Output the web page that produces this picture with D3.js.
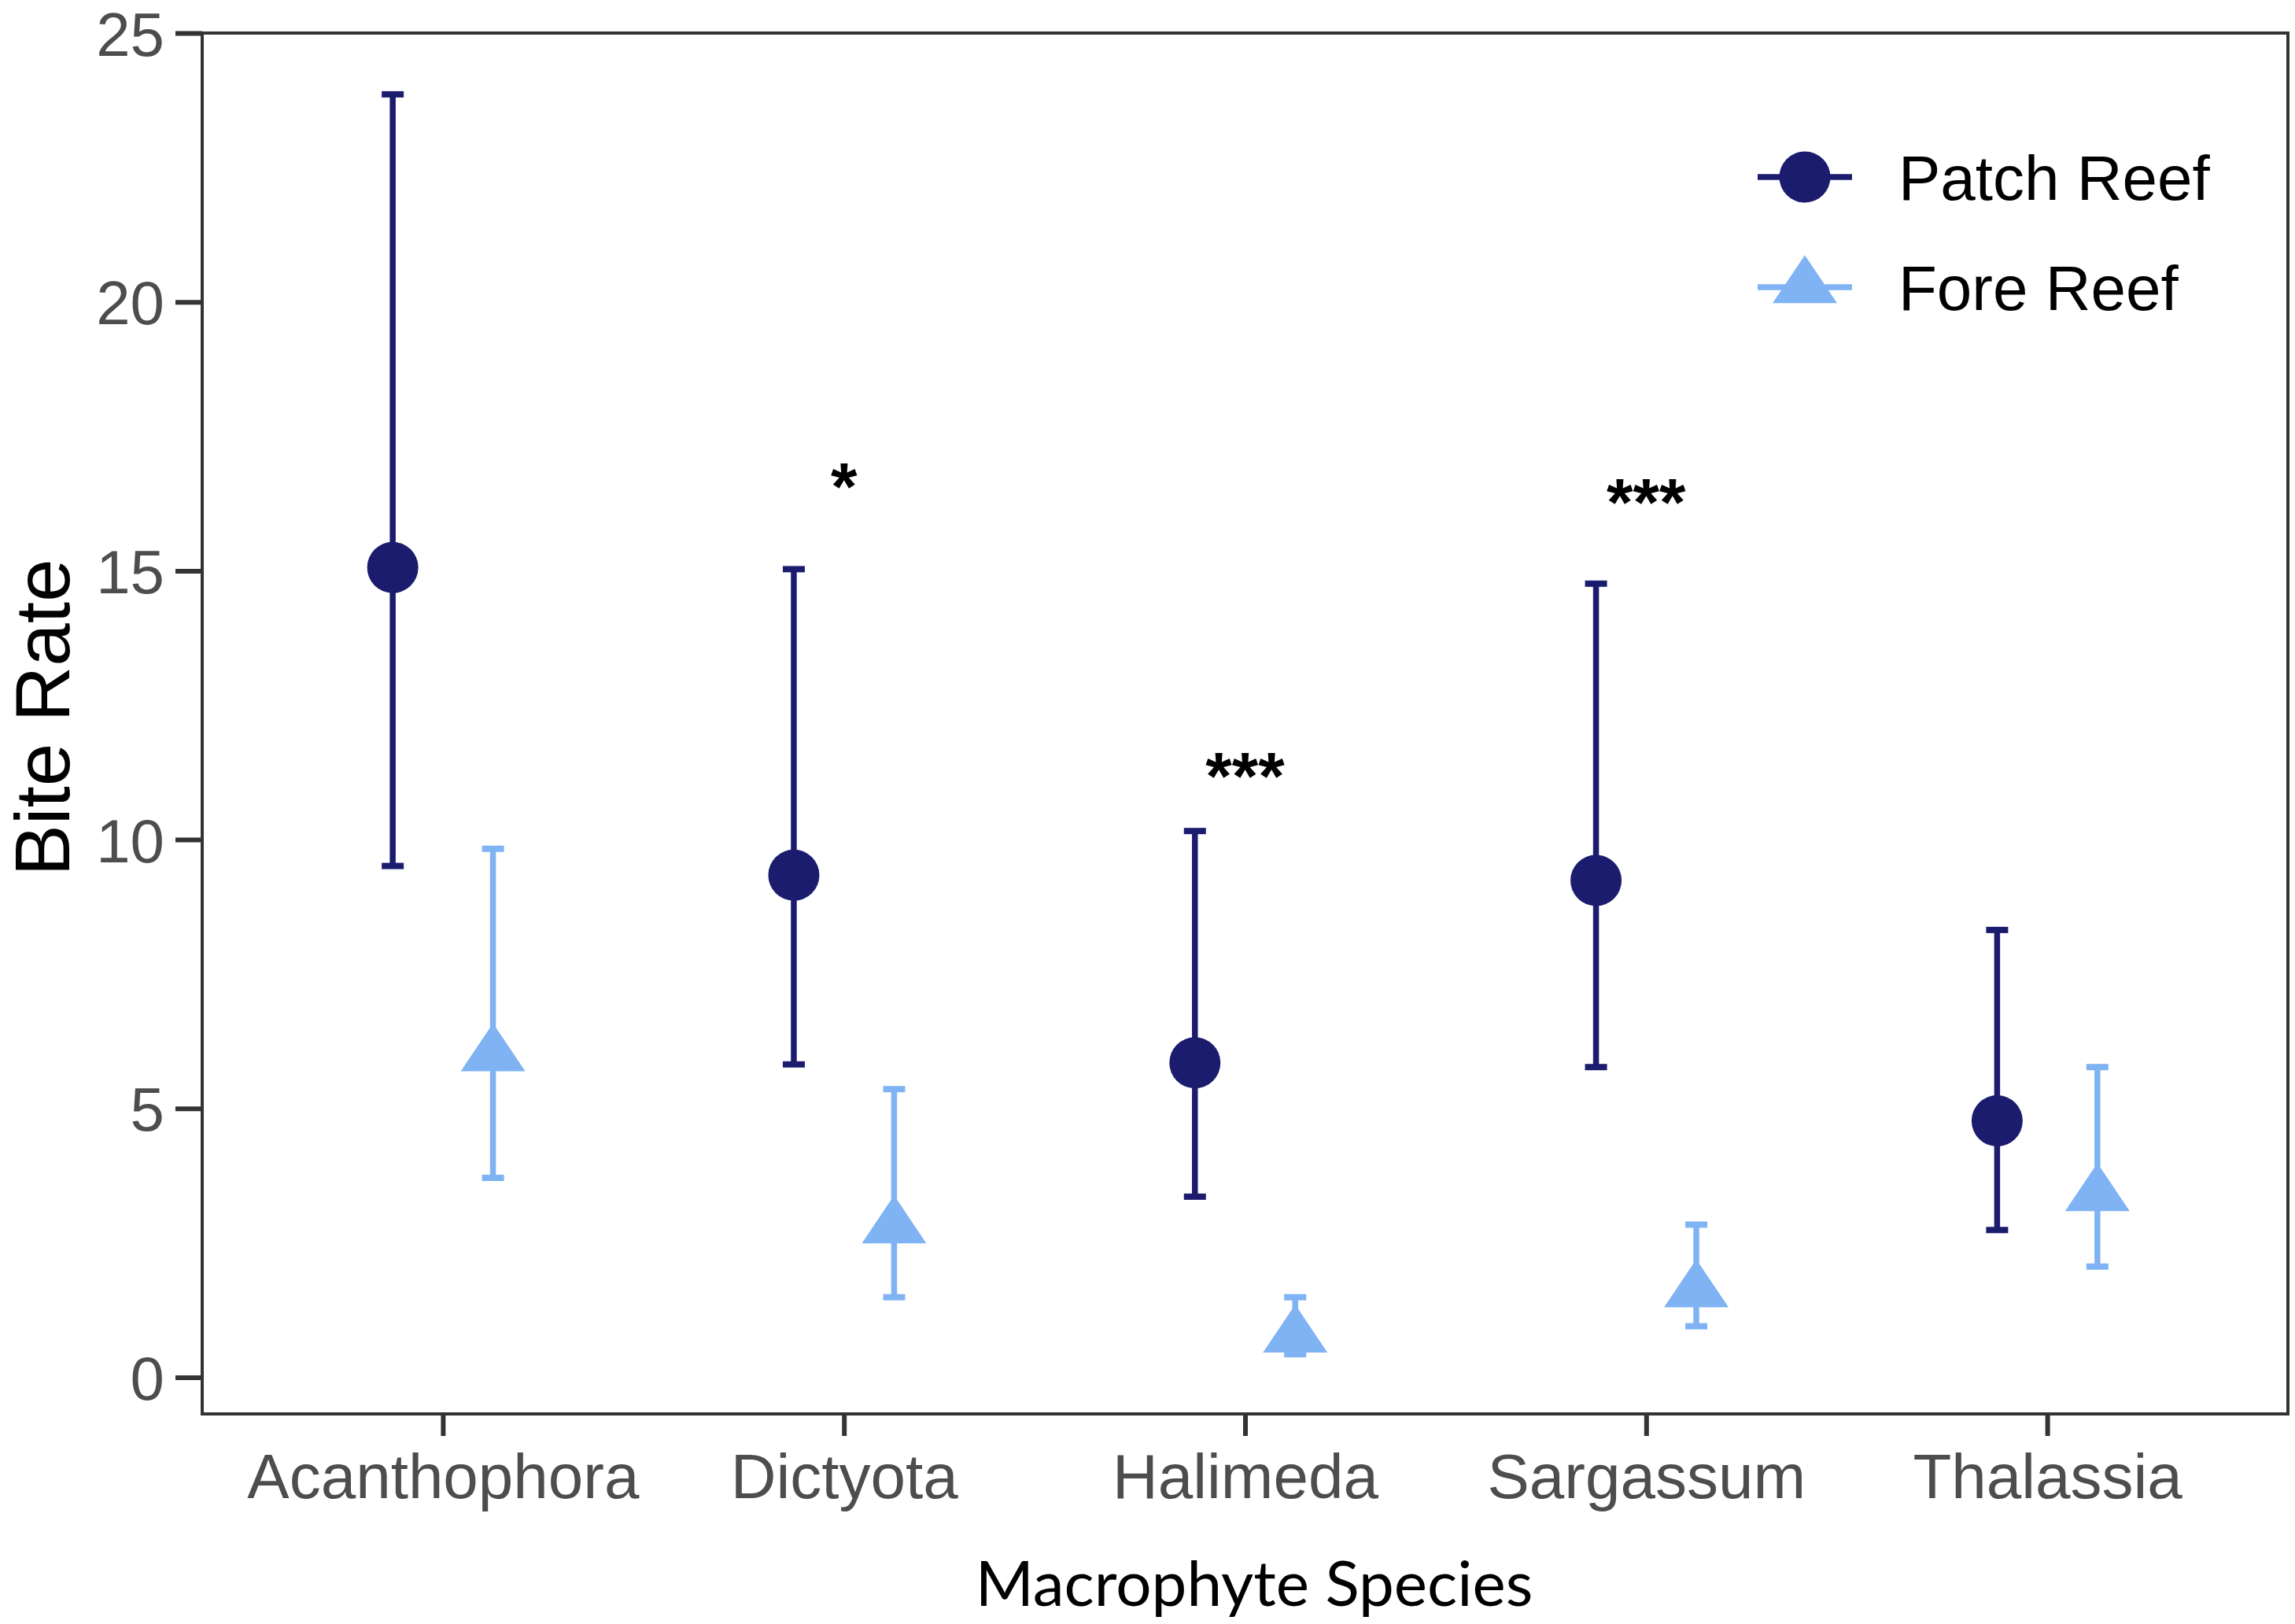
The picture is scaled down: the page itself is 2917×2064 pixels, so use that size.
<!DOCTYPE html>
<html>
<head>
<meta charset="utf-8">
<script src="https://cdn.jsdelivr.net/npm/d3@7"></script>
<style>
  html, body { margin: 0; padding: 0; background: #fff; }
  svg { display: block; }
</style>
</head>
<body>
<div id="chart"></div>
<script>
// values
const species = ['Acanthophora', 'Dictyota', 'Halimeda', 'Sargassum', 'Thalassia']
const patchMean = [15.06, 9.34, 5.85, 9.24, 4.77]
const patchLow = [9.51, 5.82, 3.36, 5.77, 2.74]
const patchHigh = [23.86, 15.03, 10.16, 14.76, 8.32]
const foreMean = [5.99, 2.79, 0.76, 1.6, 3.39]
const foreLow = [3.71, 1.49, 0.43, 0.95, 2.06]
const foreHigh = [9.83, 5.36, 1.49, 2.84, 5.77]
const yTicks = [0, 5, 10, 15, 20, 25]
const starSpecies = ['Dictyota', 'Halimeda', 'Sargassum']
const starLabels = ['*', '***', '***']
const starY = [16.76, 11.37, 16.47]
const seriesNames = ['Patch Reef', 'Fore Reef']

const width = 2917
const height = 2064
const panel = { left: 257, right: 2908, top: 42, bottom: 1797 }

const patchColor = '#1c1c6e'
const foreColor = '#80b3f3'
const axisColor = '#333333'
const labelColor = '#4d4d4d'

const svg = d3.select('#chart')
	.append('svg')
	.attr('width', width)
	.attr('height', height)

const x = d3.scalePoint()
	.domain(species)
	.range([panel.left, panel.right])
	.padding(0.6)

const y = d3.scaleLinear()
	.domain([-0.68, 25])
	.range([panel.bottom, panel.top])

const dodge = x.step() * 0.125

const series = [
	{ name: seriesNames[0], color: patchColor, shape: 'circle', offset: -dodge, mean: patchMean, low: patchLow, high: patchHigh },
	{ name: seriesNames[1], color: foreColor, shape: 'triangle', offset: dodge, mean: foreMean, low: foreLow, high: foreHigh }
]

// triangle like R pch 17, centroid at the point
const triangle = (w, h) => `M0,${-h * 2 / 3}L${w / 2},${h / 3}L${-w / 2},${h / 3}Z`

// axes
const yAxis = svg.append('g')
	.attr('transform', `translate(${panel.left},0)`)
	.call(d3.axisLeft(y).tickValues(yTicks).tickSize(34).tickPadding(14))

const xAxis = svg.append('g')
	.attr('transform', `translate(0,${panel.bottom})`)
	.call(d3.axisBottom(x).tickSize(28).tickPadding(22))

;[yAxis, xAxis].forEach(g => {
	g.select('.domain').remove()
	g.selectAll('.tick line').attr('stroke', axisColor).attr('stroke-width', 6)
	g.selectAll('.tick text')
		.attr('fill', labelColor)
		.style('font-family', '"Liberation Sans", Arial, sans-serif')
		.style('font-size', '78px')
})
yAxis.selectAll('.tick text').attr('dy', '0.36em')
xAxis.selectAll('.tick text').style('font-size', '80px')

// panel border
svg.append('rect')
	.attr('x', panel.left)
	.attr('y', panel.top)
	.attr('width', panel.right - panel.left)
	.attr('height', panel.bottom - panel.top)
	.attr('fill', 'none')
	.attr('stroke', axisColor)
	.attr('stroke-width', 4)

// error bars and points
series.forEach(s => {
	const g = svg.append('g')
	const rows = species.map((sp, i) => ({ sp, mean: s.mean[i], low: s.low[i], high: s.high[i] }))
	const cx = d => x(d.sp) + s.offset

	g.selectAll('line.bar')
		.data(rows)
		.enter()
		.append('line')
		.attr('x1', cx)
		.attr('x2', cx)
		.attr('y1', d => y(d.low))
		.attr('y2', d => y(d.high))
		.attr('stroke', s.color)
		.attr('stroke-width', 7.5)

	;['low', 'high'].forEach(k => {
		g.selectAll(`line.cap-${k}`)
			.data(rows)
			.enter()
			.append('line')
			.attr('x1', d => cx(d) - 14)
			.attr('x2', d => cx(d) + 14)
			.attr('y1', d => y(d[k]))
			.attr('y2', d => y(d[k]))
			.attr('stroke', s.color)
			.attr('stroke-width', 8)
	})

	if (s.shape === 'circle') {
		g.selectAll('circle')
			.data(rows)
			.enter()
			.append('circle')
			.attr('cx', cx)
			.attr('cy', d => y(d.mean))
			.attr('r', 32.5)
			.attr('fill', s.color)
	} else {
		g.selectAll('path')
			.data(rows)
			.enter()
			.append('path')
			.attr('d', triangle(82, 61))
			.attr('transform', d => `translate(${cx(d)},${y(d.mean)})`)
			.attr('fill', s.color)
	}
})

// significance stars
svg.append('g')
	.selectAll('text')
	.data(starSpecies.map((sp, i) => ({ sp, label: starLabels[i], v: starY[i] })))
	.enter()
	.append('text')
	.attr('x', d => x(d.sp))
	.attr('y', d => y(d.v))
	.attr('dy', '0.5em')
	.attr('text-anchor', 'middle')
	.attr('fill', '#000')
	.style('font-family', '"Liberation Sans", Arial, sans-serif')
	.style('font-weight', 'bold')
	.style('font-size', '86px')
	.text(d => d.label)

// legend
const legend = svg.append('g')
const legendRows = [225, 365]
series.forEach((s, i) => {
	const row = legend.append('g').attr('transform', `translate(2294,${legendRows[i]})`)
	row.append('line')
		.attr('x1', -60)
		.attr('x2', 60)
		.attr('stroke', s.color)
		.attr('stroke-width', 7.5)
	if (s.shape === 'circle') {
		row.append('circle').attr('r', 32.5).attr('fill', s.color)
	} else {
		row.append('path').attr('d', triangle(82, 61)).attr('fill', s.color)
	}
	row.append('text')
		.attr('x', 119)
		.attr('dy', '0.36em')
		.attr('fill', '#000')
		.style('font-family', '"Liberation Sans", Arial, sans-serif')
		.style('font-size', '80px')
		.text(s.name)
})

// axis titles
svg.append('text')
	.attr('transform', 'translate(88,912) rotate(-90)')
	.attr('text-anchor', 'middle')
	.attr('fill', '#000')
	.style('font-family', '"Liberation Sans", Arial, sans-serif')
	.style('font-size', '98px')
	.text('Bite Rate')

svg.append('text')
	.attr('x', 1594)
	.attr('y', 2041)
	.attr('text-anchor', 'middle')
	.attr('fill', '#000')
	.style('font-family', 'Lato, "Open Sans", sans-serif')
	.style('font-size', '80px')
	.text('Macrophyte Species')
</script>
</body>
</html>
